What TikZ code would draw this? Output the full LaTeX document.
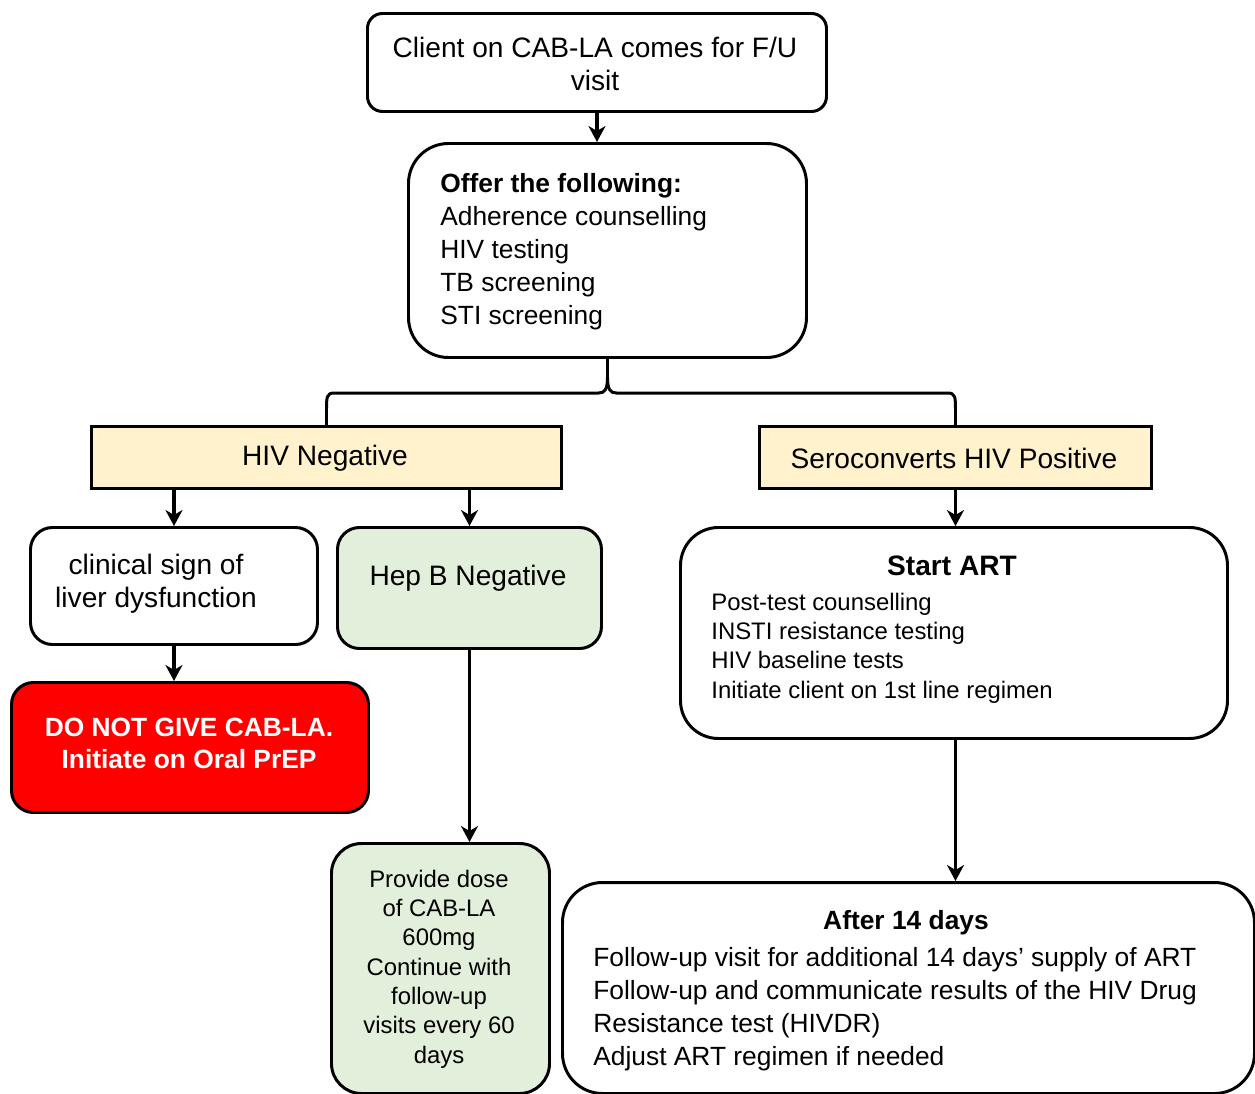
\documentclass[tikz,border=0pt]{standalone}
\usepackage{fontspec}
\setmainfont{Liberation Sans}
\usetikzlibrary{arrows.meta,calc}
\newlength{\px}\setlength{\px}{0.02cm}
\definecolor{cream}{HTML}{FFF2CC}
\definecolor{palegreen}{HTML}{E2EFDA}
\definecolor{alarm}{HTML}{FF0000}
\begin{document}
\begin{tikzpicture}[x=0.02cm,y=-0.02cm,
  box/.style={draw, line width=1.7pt, rounded corners=#1, inner sep=0pt, anchor=north west},
  box/.default=20\px,
  sqbox/.style={draw, line width=1.7pt, inner sep=0pt, anchor=north west, fill=cream},
  txt/.style={inner sep=0pt, font=\fontsize{16}{18.8}\selectfont},
  txtm/.style={inner sep=0pt, font=\fontsize{15}{18.8}\selectfont},
  txts/.style={inner sep=0pt, font=\fontsize{13.6}{16.7}\selectfont},
  arr/.style={line width=1.8pt, -{Stealth[length=0.32cm, width=0.34cm, inset=0.1cm]}},
  conn/.style={line width=1.7pt}]
\useasboundingbox (0,0) rectangle (1255,1093);

% boxes
\node[box=15\px, minimum width=459\px, minimum height=98\px] (top) at (366,12) {};
\node[box=40\px, minimum width=398\px, minimum height=214\px] (offer) at (407,142) {};
\node[sqbox, minimum width=470\px, minimum height=62\px] (neg) at (90,425) {};
\node[sqbox, minimum width=392\px, minimum height=62\px] (pos) at (758,425) {};
\node[box=22\px, minimum width=287\px, minimum height=117\px] (liver) at (29,526) {};
\node[box=22\px, fill=palegreen, minimum width=264\px, minimum height=121\px] (hepb) at (336,526) {};
\node[box=22\px, fill=alarm, minimum width=357\px, minimum height=130\px] (red) at (10,681) {};
\node[box=30\px, fill=palegreen, minimum width=218\px, minimum height=250\px] (dose) at (330,842) {};
\node[box=38\px, minimum width=547\px, minimum height=211\px] (art) at (679,526) {};
\node[box=40\px, minimum width=692\px, minimum height=211\px] (after) at (561,881) {};

% texts
\node[txt, align=center] (ttop) at (595,64) {Client on CAB-LA comes for F/U\\visit};
\node[txtm, anchor=west, align=left] (toffer) at (440,252) {\textbf{Offer the following:}\\Adherence counselling\\HIV testing\\TB screening\\STI screening};
\node[txt] (tneg) at (325,458) {HIV Negative};
\node[txt] (tpos) at (954,458) {Seroconverts HIV Positive};
\node[txt, align=center] (tliver) at (156,584) {clinical sign of\\liver dysfunction};
\node[txt] (thepb) at (468,578) {Hep B Negative};
\node[inner sep=0pt, align=center, text=white, font=\fontsize{15}{18.2}\selectfont\bfseries] (tred) at (189,743) {DO NOT GIVE CAB-LA.\\Initiate on Oral PrEP};
\node[txts, align=center] (tdose) at (439,969) {Provide dose\\of CAB-LA\\600mg\\Continue with\\follow-up\\visits every 60\\days};
\node[txt, font=\fontsize{16}{18.8}\selectfont\bfseries] (tarth) at (952,566) {Start ART};
\node[txts, anchor=west, align=left] (tart) at (711,648) {Post-test counselling\\INSTI resistance testing\\HIV baseline tests\\Initiate client on 1st line regimen};
\node[txtm, font=\fontsize{15}{18.8}\selectfont\bfseries] (tafterh) at (906,923) {After 14 days};
\node[txtm, anchor=west, align=left] (tafter) at (593,1009) {Follow-up visit for additional 14 days’ supply of ART\\Follow-up and communicate results of the HIV Drug\\Resistance test (HIVDR)\\Adjust ART regimen if needed};

% connectors
\draw[arr] (top.south) -- (top.south |- offer.north);
\coordinate (by) at (0,393);
\coordinate (bm) at (offer.south |- by);
\draw[conn] (neg.north) -- ($(neg.north)+(0,-14)$)
  .. controls ($(neg.north)+(0,-28)$) and ($(neg.north |- by)+(0,0)$) .. ($(neg.north |- by)+(8,0)$)
  -- ($(bm)+(-9,0)$)
  .. controls ($(bm)+(-3,0)$) and ($(bm)+(0,-3)$) .. ($(bm)+(0,-16)$)
  -- (offer.south);
\draw[conn] (pos.north) -- ($(pos.north)+(0,-14)$)
  .. controls ($(pos.north)+(0,-28)$) and ($(pos.north |- by)+(0,0)$) .. ($(pos.north |- by)+(-8,0)$)
  -- ($(bm)+(9,0)$)
  .. controls ($(bm)+(3,0)$) and ($(bm)+(0,-3)$) .. ($(bm)+(0,-16)$);
\draw[arr] (liver.north |- neg.south) -- (liver.north);
\draw[arr] (hepb.north |- neg.south) -- (hepb.north);
\draw[arr] (liver.south) -- (liver.south |- red.north);
\draw[arr] (hepb.south) -- (hepb.south |- dose.north);
\draw[arr] (pos.south) -- (pos.south |- art.north);
\draw[arr] (art.south -| pos.south) -- (pos.south |- after.north);
\end{tikzpicture}
\end{document}
